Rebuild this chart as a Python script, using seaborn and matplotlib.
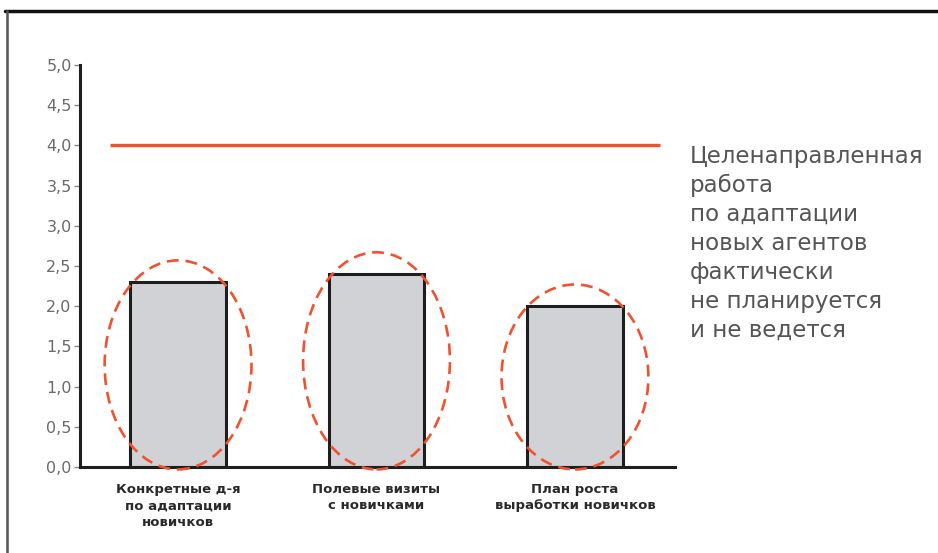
import numpy as np
import pandas as pd
import matplotlib
matplotlib.use('Agg')
import matplotlib.pyplot as plt
from matplotlib.patches import Ellipse
from matplotlib.lines import Line2D
import seaborn as sns

# Data
categories = ['Конкретные д-я\nпо адаптации\nновичков',
              'Полевые визиты\nс новичками',
              'План роста\nвыработки новичков']
values = [2.3, 2.4, 2.0]
target = 4.0
y_ticks = [0.0, 0.5, 1.0, 1.5, 2.0, 2.5, 3.0, 3.5, 4.0, 4.5, 5.0]
note = ('Целенаправленная\nработа\nпо адаптации\nновых агентов\n'
        'фактически\nне планируется\nи не ведется')

df = pd.DataFrame({'cat': categories, 'val': values})

sns.set_style('white')
plt.rcParams['font.family'] = ['DejaVu Sans']

red = '#f0522f'

fig = plt.figure(figsize=(9.38, 5.53), dpi=100)
ax = fig.add_axes([0.0853, 0.1555, 0.6343, 0.727])

sns.barplot(data=df, x='cat', y='val', color='#d1d2d6', width=0.48,
            edgecolor='#1e1e1e', linewidth=2.2, saturation=1, ax=ax)

# target line
ax.plot([-0.343, 2.428], [target, target], color=red, lw=2.4,
        solid_capstyle='butt', zorder=4)

# dashed ellipses around each bar
for i, v in enumerate(values):
    bottom, top = -0.03, v + 0.27
    e = Ellipse((i, (bottom + top) / 2), width=0.74, height=top - bottom,
                fill=False, edgecolor=red, lw=1.9, linestyle=(0, (4.5, 2.6)),
                zorder=5, clip_on=False)
    ax.add_patch(e)

ax.set_xlim(-0.494, 2.504)
ax.set_ylim(0, 5)
ax.set_yticks(y_ticks)
ax.set_yticklabels([f'{t:.1f}'.replace('.', ',') for t in y_ticks],
                   color='#6a6a6a', fontsize=11.5)
ax.tick_params(axis='y', left=True, length=4, width=1, color='#888888', pad=2)
ax.tick_params(axis='x', bottom=False, pad=8)
for lbl in ax.get_xticklabels():
    lbl.set_fontsize(9.5)
    lbl.set_fontweight('bold')
    lbl.set_color('#2a2a2a')
    lbl.set_linespacing(1.35)
ax.set_xlabel('')
ax.set_ylabel('')

for s in ['top', 'right']:
    ax.spines[s].set_visible(False)
for s in ['left', 'bottom']:
    ax.spines[s].set_color('#1e1e1e')
    ax.spines[s].set_linewidth(2.2)

fig.text(690 / 938, 1 - 145 / 553, note, ha='left', va='top',
         fontsize=16.5, color='#555555', linespacing=1.33)

# slide frame
fig.add_artist(Line2D([5 / 938, 1], [1 - 11 / 553, 1 - 11 / 553],
                      color='#111111', lw=2.5))
fig.add_artist(Line2D([7 / 938, 7 / 938], [0, 1 - 11 / 553],
                      color='#555555', lw=1.8))

fig.savefig('out.png', dpi=100, facecolor='white')
